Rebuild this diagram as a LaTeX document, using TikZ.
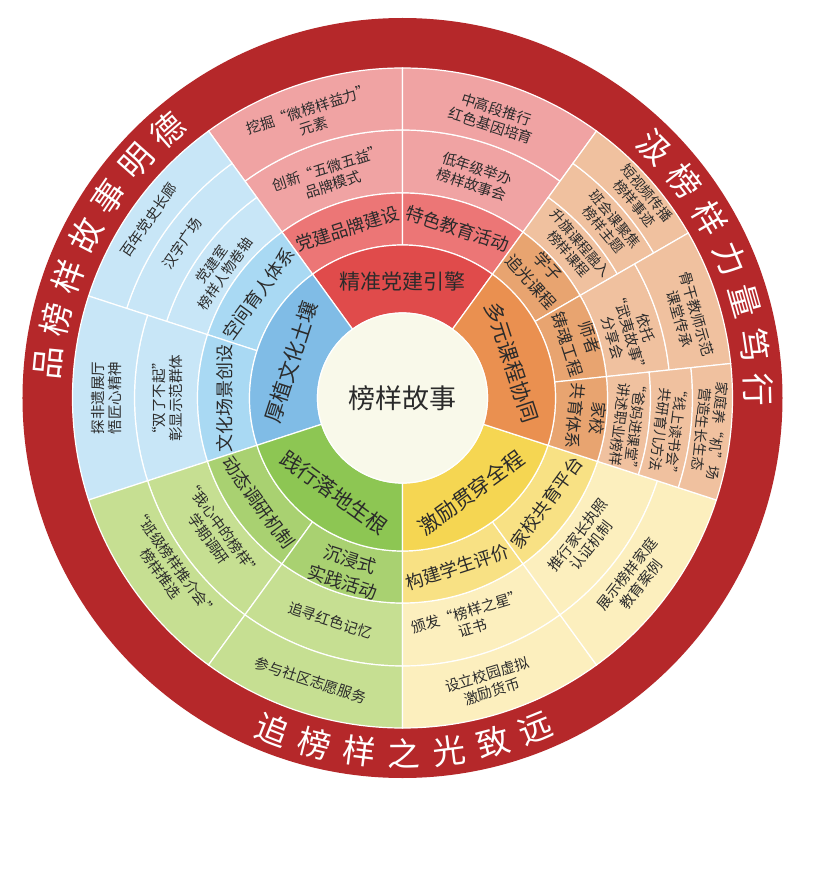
\documentclass[tikz,border=0pt]{standalone}
\usepackage{fontspec}
\newfontfamily\cjk{Noto Sans CJK SC}
\usetikzlibrary{calc}

\definecolor{rimred}{HTML}{B5282A}
\definecolor{hubfill}{HTML}{F9F9EA}
\definecolor{textgrey}{HTML}{2B2B2B}
\definecolor{redcore}{HTML}{E04B4B}
\definecolor{redmid}{HTML}{EC7676}
\definecolor{redout}{HTML}{F0A3A3}
\definecolor{bluecore}{HTML}{80BCE6}
\definecolor{bluemid}{HTML}{A9D9F3}
\definecolor{blueout}{HTML}{C8E6F7}
\definecolor{greencore}{HTML}{8DC653}
\definecolor{greenmid}{HTML}{A9D171}
\definecolor{greenout}{HTML}{C6DF92}
\definecolor{yellowcore}{HTML}{F5D652}
\definecolor{yellowmid}{HTML}{F8E184}
\definecolor{yellowout}{HTML}{FCEFBE}
\definecolor{orangecore}{HTML}{EA9050}
\definecolor{orangemid}{HTML}{E8A470}
\definecolor{orangeout}{HTML}{F0C19F}

% annular sector: start angle, end angle, inner radius, outer radius, colour
\newcommand{\ringpart}[5]{%
  \fill[#5, draw=white, line width=1.2pt]
    (#1:#3pt) arc[start angle=#1, end angle=#2, radius=#3pt]
    -- (#2:#4pt) arc[start angle=#2, end angle=#1, radius=#4pt] -- cycle;}

\tikzset{
  hubtext/.style={font=\cjk\fontsize{27}{30}\selectfont, text=textgrey, inner sep=0pt},
  coretext/.style={font=\cjk\fontsize{21}{25}\selectfont, text=textgrey, align=center, inner sep=0pt},
  midtext/.style={font=\cjk\fontsize{18}{24}\selectfont, text=textgrey, align=center, inner sep=0pt},
  pairtext/.style={font=\cjk\fontsize{16.5}{23}\selectfont, text=textgrey, align=center, inner sep=0pt},
  bandtext/.style={font=\cjk\fontsize{14.5}{17.5}\selectfont, text=textgrey, align=center, inner sep=0pt},
  narrowtext/.style={font=\cjk\fontsize{14}{16}\selectfont, text=textgrey, align=center, inner sep=0pt},
  rimchar/.style={font=\cjk\fontsize{33}{33}\selectfont, text=white, inner sep=0pt}
}

\begin{document}
\begin{tikzpicture}[x=1pt, y=1pt]
      % page
      \fill[white] (-402.5,-475) rectangle (420.5,398);
      \useasboundingbox (-402.5,-475) rectangle (420.5,398);
      % red rim
      \fill[rimred] (0,0) circle[radius=380pt];
      % outer bands
      \ringpart{90}{126}{205}{268}{redout}
      \ringpart{90}{126}{268}{330}{redout}
      \ringpart{54}{90}{205}{268}{redout}
      \ringpart{54}{90}{268}{330}{redout}
      \ringpart{126}{162}{205}{248}{blueout}
      \ringpart{126}{162}{248}{290}{blueout}
      \ringpart{126}{162}{290}{330}{blueout}
      \ringpart{162}{198}{205}{268}{blueout}
      \ringpart{162}{198}{268}{330}{blueout}
      \ringpart{198}{234}{205}{268}{greenout}
      \ringpart{198}{234}{268}{330}{greenout}
      \ringpart{234}{270}{205}{268}{greenout}
      \ringpart{234}{270}{268}{330}{greenout}
      \ringpart{270}{306}{205}{268}{yellowout}
      \ringpart{270}{306}{268}{330}{yellowout}
      \ringpart{306}{342}{205}{268}{yellowout}
      \ringpart{306}{342}{268}{330}{yellowout}
      \ringpart{30}{54}{205}{248}{orangeout}
      \ringpart{30}{54}{248}{290}{orangeout}
      \ringpart{30}{54}{290}{330}{orangeout}
      \ringpart{6}{30}{205}{268}{orangeout}
      \ringpart{6}{30}{268}{330}{orangeout}
      \ringpart{-18}{6}{205}{248}{orangeout}
      \ringpart{-18}{6}{248}{290}{orangeout}
      \ringpart{-18}{6}{290}{330}{orangeout}
      % middle ring
      \ringpart{90}{126}{153}{205}{redmid}
      \ringpart{54}{90}{153}{205}{redmid}
      \ringpart{126}{162}{153}{205}{bluemid}
      \ringpart{162}{198}{153}{205}{bluemid}
      \ringpart{198}{234}{153}{205}{greenmid}
      \ringpart{234}{270}{153}{205}{greenmid}
      \ringpart{270}{306}{153}{205}{yellowmid}
      \ringpart{306}{342}{153}{205}{yellowmid}
      \ringpart{30}{54}{153}{205}{orangemid}
      \ringpart{6}{30}{153}{205}{orangemid}
      \ringpart{-18}{6}{153}{205}{orangemid}
      % core ring
      \ringpart{54}{126}{85}{153}{redcore}
      \ringpart{126}{198}{85}{153}{bluecore}
      \ringpart{198}{270}{85}{153}{greencore}
      \ringpart{270}{342}{85}{153}{yellowcore}
      \ringpart{-18}{54}{85}{153}{orangecore}
      % hub
      \fill[hubfill, draw=white, line width=1.2pt] (0,0) circle[radius=85pt];
      \node[hubtext] (hub) at (0,0) {榜样故事};
      % core labels
      \node[coretext] (engine) at (90:117pt) {精准党建引擎};
      \node[coretext, rotate=72] (soil) at (162:117pt) {厚植文化土壤};
      \node[coretext, rotate=-36] (roots) at (234:117pt) {践行落地生根};
      \node[coretext, rotate=36] (spur) at (306:117pt) {激励贯穿全程};
      \node[coretext, rotate=-72] (courses) at (18:115pt) {多元课程协同};
      % middle labels
      \node[midtext, rotate=18] (brand) at (108:178pt) {党建品牌建设};
      \node[midtext, rotate=-18] (activity) at (72:178pt) {特色教育活动};
      \node[midtext, rotate=54] (space) at (144:178pt) {空间育人体系};
      \node[midtext, rotate=90] (scene) at (180:178pt) {文化场景创设};
      \node[midtext, rotate=-54] (survey) at (216:178pt) {动态调研机制};
      \node[midtext, rotate=-18] (practice) at (252:182pt) {沉浸式\\实践活动};
      \node[midtext, rotate=18] (review) at (288:178pt) {构建学生评价};
      \node[midtext, rotate=54] (platform) at (324:178pt) {家校共育平台};
      \node[pairtext, rotate=-48] (pupils) at (42:185pt) {学子\\追光课程};
      \node[pairtext, rotate=-72] (tutors) at (18:185pt) {师者\\铸魂工程};
      \node[pairtext, rotate=-96] (homes) at (354:185pt) {家校\\共育体系};
      % outer labels, red
      \node[bandtext, rotate=18] (dig) at (108:295pt) {挖掘“微榜样益力”\\元素};
      \node[bandtext, rotate=18] (wuwei) at (108:233pt) {创新“五微五益”\\品牌模式};
      \node[bandtext, rotate=-18] (gene) at (72:295pt) {中高段推行\\红色基因培育};
      \node[bandtext, rotate=-18] (tales) at (72:233pt) {低年级举办\\榜样故事会};
      % outer labels, blue
      \node[bandtext, rotate=55] (hall) at (145:310pt) {百年党史长廊};
      \node[bandtext, rotate=55] (square) at (145:269pt) {汉字广场};
      \node[narrowtext, rotate=55] (scroll) at (145:225pt) {党建室\\榜样人物卷轴};
      \node[bandtext, rotate=90] (craft) at (180:296pt) {探非遗展厅\\悟匠心精神};
      \node[bandtext, rotate=90] (heroes) at (180:235pt) {“双了不起”\\彰显示范群体};
      % outer labels, green
      \node[bandtext, rotate=-54] (classvote) at (216:290pt) {“班级榜样推介会”\\榜样推选};
      \node[bandtext, rotate=-54] (termpoll) at (216:231pt) {“我心中的榜样”\\学期调研};
      \node[bandtext, rotate=-18] (redmemory) at (252:234pt) {追寻红色记忆};
      \node[bandtext, rotate=-18] (volunteer) at (252:297pt) {参与社区志愿服务};
      % outer labels, yellow
      \node[bandtext, rotate=17] (star) at (287:232pt) {颁发“榜样之星”\\证书};
      \node[bandtext, rotate=17] (coin) at (287:298pt) {设立校园虚拟\\激励货币};
      \node[bandtext, rotate=52] (licence) at (322:231pt) {推行家长执照\\认证机制};
      \node[bandtext, rotate=52] (cases) at (322:294pt) {展示榜样家庭\\教育案例};
      % outer labels, orange
      \node[narrowtext, rotate=-50] (video) at (40:311pt) {短视频传播\\榜样事迹};
      \node[narrowtext, rotate=-50] (meeting) at (40:270pt) {班会课聚焦\\榜样主题};
      \node[narrowtext, rotate=-49] (flag) at (41:228pt) {升旗课程融入\\榜样课程};
      \node[bandtext, rotate=-74] (model) at (16:297pt) {骨干教师示范\\课堂传承};
      \node[bandtext, rotate=-74] (wuyi) at (16:236pt) {依托\\“武夷故事”\\分享会};
      \node[narrowtext, rotate=-97] (parents) at (353:227pt) {“爸妈进课堂”\\讲述职业榜样};
      \node[narrowtext, rotate=-97] (reading) at (353:268pt) {“线上读书会”\\共研育儿方法};
      \node[narrowtext, rotate=-96] (nurture) at (354:309pt) {家庭养“机”场\\营造生长生态};
      % rim mottos
      \foreach \ch [count=\i] in {品,榜,样,故,事,明,德}
        \node[rimchar, rotate={91.6-7.2*\i}] (left\i) at ({181.6-7.2*\i}:356pt) {\ch};
      \foreach \ch [count=\i] in {汲,榜,样,力,量,笃,行}
        \node[rimchar, rotate={-37.95-7.25*\i}] (right\i) at ({52.05-7.25*\i}:356pt) {\ch};
      \foreach \ch [count=\i] in {追,榜,样,之,光,致,远}
        \node[rimchar, rotate={331.25+7.25*\i}] (bottom\i) at ({241.25+7.25*\i}:356pt) {\ch};
    \end{tikzpicture}
\end{document}
